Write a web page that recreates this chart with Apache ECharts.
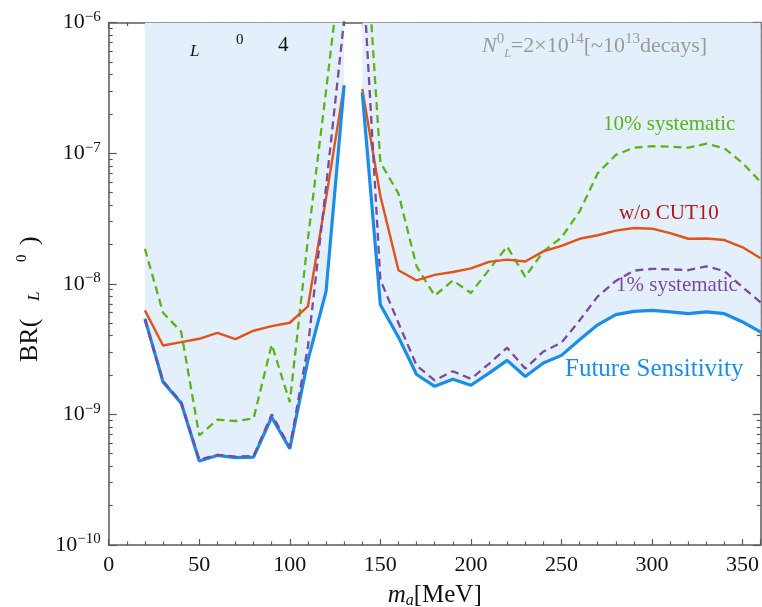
<!DOCTYPE html>
<html><head><meta charset="utf-8">
<script src="https://cdn.jsdelivr.net/npm/echarts@6/dist/echarts.min.js"></script>
<style>html,body{margin:0;padding:0;background:#fff}#chart{width:762px;height:607px}</style>
</head><body><div id="chart"></div>
<script>
// ---- data ----
const massLeft  = [20,30,40,50,60,70,80,90,100,110,120,130];
const massRight = [140,150,160,170,180,190,200,210,220,230,240,250,260,270,280,290,300,310,320,330,340,350,360];
const futureLeft  = [5.4e-9,1.77e-9,1.22e-9,4.4e-10,4.85e-10,4.67e-10,4.7e-10,9.5e-10,5.46e-10,2.6e-9,8.7e-9,3.3e-7];
const futureRight = [2.9e-7,6.9e-9,3.9e-9,2.02e-9,1.64e-9,1.86e-9,1.67e-9,2.07e-9,2.59e-9,1.95e-9,2.47e-9,2.83e-9,3.73e-9,4.85e-9,5.8e-9,6.14e-9,6.25e-9,6.1e-9,5.9e-9,6.1e-9,5.9e-9,5.1e-9,4.26e-9];
const noCutLeft  = [6.25e-9,3.37e-9,3.57e-9,3.79e-9,4.21e-9,3.77e-9,4.37e-9,4.74e-9,5.03e-9,6.7e-9,4.5e-8,3.3e-7];
const noCutRight = [3.1e-7,4.7e-8,1.27e-8,1.06e-8,1.17e-8,1.23e-8,1.31e-8,1.47e-8,1.53e-8,1.48e-8,1.77e-8,1.95e-8,2.21e-8,2.35e-8,2.55e-8,2.67e-8,2.64e-8,2.44e-8,2.21e-8,2.22e-8,2.16e-8,1.9e-8,1.57e-8];
const sys10Left  = [1.85e-8,6.0e-9,4.3e-9,6.9e-10,9.1e-10,8.9e-10,9.3e-10,3.43e-9,1.24e-9,2.2e-8,3.0e-7,4.4e-6];
const sys10Right = [1.2e-5,8.5e-8,4.9e-8,1.36e-8,8.1e-9,1.06e-8,8.5e-9,1.28e-8,1.93e-8,1.13e-8,1.77e-8,2.26e-8,3.58e-8,7.0e-8,9.7e-8,1.1e-7,1.13e-7,1.12e-7,1.1e-7,1.18e-7,1.09e-7,8.4e-8,6.0e-8];
const sys1Left  = [5.3e-9,1.8e-9,1.25e-9,4.5e-10,4.9e-10,4.75e-10,4.8e-10,1.0e-9,5.6e-10,3.3e-9,5.5e-8,1.05e-6];
const sys1Right = [3.0e-6,1.07e-8,5.0e-9,2.37e-9,1.82e-9,2.14e-9,1.87e-9,2.44e-9,3.24e-9,2.24e-9,3.03e-9,3.54e-9,5.24e-9,8.0e-9,1.05e-8,1.26e-8,1.3e-8,1.29e-8,1.27e-8,1.36e-8,1.25e-8,9.4e-9,7.2e-9];
const gapMass = 135;
const yExponents = [-10,-9,-8,-7,-6];
const xTickValues = [0,50,100,150,200,250,300,350];

// ---- helpers ----
function joined(l, r) {
  return massLeft.map((m,i)=>[m,l[i]]).concat([[gapMass,'-']], massRight.map((m,i)=>[m,r[i]]));
}
const minorLog = [];
for (let e = yExponents[0]; e < yExponents[yExponents.length-1]; e++) {
  for (let k = 2; k <= 9; k++) minorLog.push(e + Math.log10(k));
}
const SERIF = '"Liberation Serif","DejaVu Serif",serif';
const axisColor = '#5a5a5a';
const tickStyle = {color: axisColor, width: 1.2};

function yLabel(v) {
  const e = Math.round(Math.log10(v));
  return '{b|10}{s|' + (e < 0 ? '\u2212' + (-e) : e) + '}';
}

const chart = echarts.init(document.getElementById('chart'));
const option = {
  animation: false,
  backgroundColor: '#fff',
  grid: {left: 108.7, right: 1.3, top: 22.5, bottom: 62, containLabel: false, outerBoundsMode: 'none'},
  xAxis: [{
    type: 'value', min: 0, max: 360, interval: 50, position: 'bottom',
    axisLine: {show: true, lineStyle: {color: axisColor, width: 1.5}},
    axisTick: {show: true, inside: true, length: 6, lineStyle: tickStyle},
    minorTick: {show: true, splitNumber: 5, length: 3.5, lineStyle: tickStyle},
    splitLine: {show: false},
    axisLabel: {show: true, margin: 9, fontFamily: SERIF, fontSize: 22, color: '#111',
      customValues: xTickValues, formatter: v => String(v)},
    name: '{i|m}{s|a}{n|[MeV]}', nameLocation: 'middle', nameGap: 36,
    nameTextStyle: {rich: {
      i: {fontFamily: SERIF, fontStyle: 'italic', fontSize: 25, color: '#111', lineHeight: 28},
      s: {fontFamily: SERIF, fontStyle: 'italic', fontSize: 16, color: '#111', verticalAlign: 'bottom', lineHeight: 28},
      n: {fontFamily: SERIF, fontSize: 25, color: '#111', lineHeight: 28}
    }}
  }, {
    type: 'value', min: 0, max: 360, interval: 50, position: 'top',
    axisLine: {show: true, lineStyle: {color: axisColor, width: 1.5}},
    axisTick: {show: true, inside: true, length: 6, lineStyle: tickStyle},
    minorTick: {show: true, splitNumber: 5, length: 3.5, lineStyle: tickStyle},
    splitLine: {show: false}, axisLabel: {show: false}
  }],
  yAxis: [{
    type: 'log', logBase: 10, min: 1e-10, max: 1e-6, position: 'left',
    axisLine: {show: true, lineStyle: {color: axisColor, width: 1.5}},
    axisTick: {show: true, inside: true, length: 8, lineStyle: tickStyle},
    splitLine: {show: false},
    axisLabel: {show: true, margin: 8, formatter: yLabel, rich: {
      b: {fontFamily: SERIF, fontSize: 22, color: '#111', lineHeight: 26},
      s: {fontFamily: SERIF, fontSize: 15, color: '#111', verticalAlign: 'top', lineHeight: 16}
    }}
  }, {
    type: 'value', min: -10, max: -6, position: 'left',
    axisLine: {show: false}, splitLine: {show: false}, axisLabel: {show: false},
    axisTick: {show: true, inside: true, length: 4, lineStyle: tickStyle, customValues: minorLog}
  }, {
    type: 'log', logBase: 10, min: 1e-10, max: 1e-6, position: 'right',
    axisLine: {show: true, lineStyle: {color: axisColor, width: 1.5}},
    axisTick: {show: true, inside: true, length: 8, lineStyle: tickStyle},
    splitLine: {show: false}, axisLabel: {show: false}
  }, {
    type: 'value', min: -10, max: -6, position: 'right',
    axisLine: {show: false}, splitLine: {show: false}, axisLabel: {show: false},
    axisTick: {show: true, inside: true, length: 4, lineStyle: tickStyle, customValues: minorLog}
  }],
  series: [{
    name: 'fill', type: 'line', data: joined(futureLeft, futureRight), symbol: 'none',
    lineStyle: {width: 0}, areaStyle: {origin: 'end', color: '#e3effb', opacity: 1},
    silent: true, z: 1
  }, {
    name: '10% systematic', type: 'line', data: joined(sys10Left, sys10Right), symbol: 'none',
    lineStyle: {color: '#5cb31b', width: 2.3, type: [8, 5]}, z: 3
  }, {
    name: 'w/o CUT10', type: 'line', data: joined(noCutLeft, noCutRight), symbol: 'none',
    lineStyle: {color: '#e2531a', width: 2.4}, z: 3
  }, {
    name: 'Future Sensitivity', type: 'line', data: joined(futureLeft, futureRight), symbol: 'none',
    lineStyle: {color: '#1b8de8', width: 3.2}, z: 4
  }, {
    name: '1% systematic', type: 'line', data: joined(sys1Left, sys1Right), symbol: 'none',
    lineStyle: {color: '#7b4a9e', width: 2.3, type: [8, 5]}, z: 5
  }],
  graphic: [
    {type: 'text', z: 100, left: 190, top: 43, style: {text: 'L', font: 'italic 17px ' + SERIF, fill: '#111'}},
    {type: 'text', z: 100, left: 236, top: 33, style: {text: '0', font: '15px ' + SERIF, fill: '#111'}},
    {type: 'text', z: 100, left: 278, top: 35, style: {text: '4', font: '21px ' + SERIF, fill: '#111'}},
    {type: 'text', z: 100, left: 482, top: 32, style: {
      text: '{n|N}{u|0}{d|L}{t|=2\u00d710}{u|14}{t|[~10}{u|13}{t|decays]}',
      rich: {
        n: {fontFamily: SERIF, fontStyle: 'italic', fontSize: 22, fill: '#9a9a9a', lineHeight: 28},
        t: {fontFamily: SERIF, fontSize: 22, fill: '#9a9a9a', lineHeight: 28},
        u: {fontFamily: SERIF, fontSize: 15, fill: '#9a9a9a', verticalAlign: 'top', lineHeight: 17},
        d: {fontFamily: SERIF, fontStyle: 'italic', fontSize: 12, fill: '#9a9a9a', verticalAlign: 'bottom', lineHeight: 12}
      }}},
    {type: 'text', z: 100, left: 603, top: 114, style: {text: '10% systematic', font: '21px ' + SERIF, fill: '#5cb31b'}},
    {type: 'text', z: 100, left: 619, top: 203, style: {text: 'w/o CUT10', font: '21px ' + SERIF, fill: '#b3161c'}},
    {type: 'text', z: 100, left: 616, top: 275, style: {text: '1% systematic', font: '21px ' + SERIF, fill: '#7b4a9e'}},
    {type: 'text', z: 100, left: 565, top: 357, style: {text: 'Future Sensitivity', font: '25px ' + SERIF, fill: '#1b8de8'}},
    {type: 'group', z: 100, x: 30, y: 300, rotation: Math.PI / 2, children: [
      {type: 'text', x: -62, y: 0, style: {text: 'BR(', font: '26px ' + SERIF, fill: '#111', textVerticalAlign: 'middle', textAlign: 'left'}},
      {type: 'text', x: -1, y: 5, style: {text: 'L', font: 'italic 17px ' + SERIF, fill: '#111', textVerticalAlign: 'middle', textAlign: 'left'}},
      {type: 'text', x: 38, y: -8, style: {text: '0', font: '15px ' + SERIF, fill: '#111', textVerticalAlign: 'middle', textAlign: 'left'}},
      {type: 'text', x: 55, y: 0, style: {text: ')', font: '26px ' + SERIF, fill: '#111', textVerticalAlign: 'middle', textAlign: 'left'}}
    ]}
  ]
};
chart.setOption(option);
</script></body></html>
